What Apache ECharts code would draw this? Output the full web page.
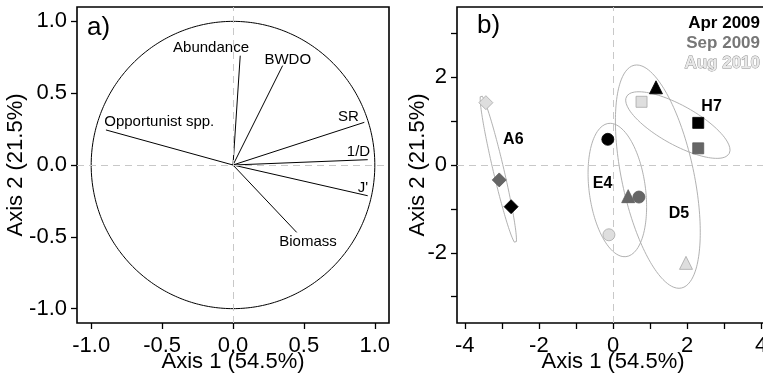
<!DOCTYPE html>
<html><head><meta charset="utf-8">
<script src="https://cdn.jsdelivr.net/npm/echarts@6/dist/echarts.min.js"></script>
<style>html,body{margin:0;padding:0;background:#fff}#c{width:763px;height:382px}</style>
</head><body><div id="c"></div>
<script>
// ---- Panel a: variable loadings ----
const vectorNames = ['Abundance', 'BWDO', 'SR', '1/D', "J'", 'Biomass', 'Opportunist spp.'];
const vectorX = [0.051, 0.350, 0.926, 0.950, 0.950, 0.449, -0.896];
const vectorY = [0.761, 0.692, 0.297, 0.037, -0.214, -0.469, 0.244];
const vectorLabelX = [-0.155, 0.386, 0.814, 0.885, 0.917, 0.529, -0.52];
const vectorLabelY = [0.815, 0.733, 0.338, 0.093, -0.156, -0.534, 0.297];
const aTicks = [-1, -0.5, 0, 0.5, 1];

// ---- Panel b: site scores ----
const sites = ['A6', 'E4', 'D5', 'H7'];
const siteSymbols = ['diamond', 'circle', 'triangle', 'rect'];
const periods = ['Apr 2009', 'Sep 2009', 'Aug 2010'];
const aprX = [-2.75, -0.14, 1.16, 2.30];
const aprY = [-0.95, 0.585, 1.77, 0.96];
const sepX = [-3.07, 0.70, 0.41, 2.30];
const sepY = [-0.34, -0.73, -0.71, 0.38];
const augX = [-3.43, -0.11, 1.97, 0.77];
const augY = [1.42, -1.59, -2.23, 1.44];
const siteLabelX = [-2.69, -0.28, 1.78, 2.66];
const siteLabelY = [0.59, -0.43, -1.10, 1.33];
// ellipse per site: centre, x spread, y spread, covariance term
const ellCX = [-3.095, 0.117, 1.21, 1.75];
const ellCY = [-0.095, -0.57, -0.265, 0.91];
const ellSX = [0.49, 0.79, 1.145, 1.408];
const ellSY = [1.69, 1.52, 2.544, 0.759];
const ellCov = [-0.789, -0.30, -1.45, -0.80];
const bXTicks = [-4, -3, -2, -1, 0, 1, 2, 3, 4];
const bXLabels = [-4, -2, 0, 2, 4];
const bYTicks = [-3, -2, -1, 0, 1, 2, 3];
const bYLabels = [-2, 0, 2];

const FONT = '"Liberation Sans", Arial, sans-serif';

function circlePts() {
  const p = [];
  for (let i = 0; i <= 360; i++) { const t = i * Math.PI / 180; p.push([Math.cos(t), Math.sin(t)]); }
  return p;
}
function ellipsePts(k) {
  const p = [];
  const sx = ellSX[k], c = ellCov[k], sy = ellSY[k];
  const r = c / sx, q = Math.sqrt(Math.max(sy * sy - r * r, 0));
  for (let i = 0; i <= 360; i++) {
    const t = i * Math.PI / 180;
    p.push([ellCX[k] + sx * Math.cos(t), ellCY[k] + r * Math.cos(t) + q * Math.sin(t)]);
  }
  return p;
}

function axisCommon(ticks, labels, fmt, margin) {
  return {
    axisLine: { show: false, onZero: false },
    axisTick: { show: true, inside: false, length: 6, lineStyle: { color: '#000', width: 1.3 }, customValues: ticks },
    axisLabel: { show: true, customValues: labels, formatter: fmt, color: '#000', fontSize: 22, fontFamily: FONT, margin: margin },
    splitLine: { show: false },
    nameTextStyle: { color: '#000', fontSize: 22, fontFamily: FONT },
    nameLocation: 'middle',
    nameMoveOverlap: false
  };
}
const f1 = v => Number(v).toFixed(1);
const f0 = v => String(Math.round(v));

const zeroLines = {
  silent: true, symbol: 'none', animation: false,
  label: { show: false },
  lineStyle: { type: [7, 5], color: '#c8c8c8', width: 1 },
  data: [{ xAxis: 0 }, { yAxis: 0 }]
};

const textLabel = (size, weight) => ({
  show: true, position: 'inside', formatter: p => p.name, color: '#000',
  fontSize: size, fontWeight: weight, fontFamily: FONT, textBorderWidth: 0, opacity: 1
});

const series = [];
// panel a
series.push({
  type: 'line', xAxisIndex: 0, yAxisIndex: 0, data: circlePts(), showSymbol: false,
  lineStyle: { color: '#000', width: 1 }, silent: true, z: 3, markLine: zeroLines
});
series.push({
  type: 'lines', coordinateSystem: 'cartesian2d', xAxisIndex: 0, yAxisIndex: 0, z: 4,
  lineStyle: { color: '#000', width: 1, opacity: 1 },
  data: vectorNames.map((n, i) => ({ coords: [[0, 0], [vectorX[i], vectorY[i]]] }))
});
series.push({
  type: 'scatter', xAxisIndex: 0, yAxisIndex: 0, symbolSize: 0.1, z: 5, silent: true,
  itemStyle: { color: '#000' },
  label: textLabel(15, 'normal'),
  data: vectorNames.map((n, i) => ({ name: n, value: [vectorLabelX[i], vectorLabelY[i]] }))
});
// panel b ellipses
sites.forEach((s, k) => {
  series.push({
    type: 'line', xAxisIndex: 1, yAxisIndex: 1, data: ellipsePts(k), showSymbol: false, silent: true, z: 2,
    lineStyle: { color: '#a8a8a8', width: 0.9 },
    markLine: k === 0 ? zeroLines : undefined
  });
});
const symSize = { diamond: 14, circle: 12, triangle: 13, rect: 11 };
const periodX = [aprX, sepX, augX];
const periodY = [aprY, sepY, augY];
const periodFill = ['#000000', '#666666', '#dedede'];
const periodBorder = ['#000000', '#5a5a5a', '#a8a8a8'];
periods.forEach((p, j) => {
  series.push({
    type: 'scatter', name: p, xAxisIndex: 1, yAxisIndex: 1, z: 6,
    itemStyle: { color: periodFill[j], borderColor: periodBorder[j], borderWidth: 0.8, opacity: 1 },
    data: sites.map((s, k) => ({
      name: s, value: [periodX[j][k], periodY[j][k]],
      symbol: siteSymbols[k], symbolSize: symSize[siteSymbols[k]]
    }))
  });
});
series.push({
  type: 'scatter', xAxisIndex: 1, yAxisIndex: 1, symbolSize: 0.1, z: 7, silent: true,
  itemStyle: { color: '#000' },
  label: textLabel(16, 'bold'),
  data: sites.map((s, k) => ({ name: s, value: [siteLabelX[k], siteLabelY[k]] }))
});

const legendColors = ['#000000', '#777777', '#e8e8e8'];
const legendGraphics = periods.map((p, j) => ({
  type: 'text', x: 760, y: 23 + j * 20, z: 100,
  style: {
    text: p, align: 'right', verticalAlign: 'middle',
    font: 'bold 17px ' + FONT, fill: legendColors[j],
    stroke: j === 2 ? '#8a8a8a' : null, lineWidth: j === 2 ? 0.8 : 0
  }
}));

const option = {
  animation: false,
  backgroundColor: '#fff',
  grid: [
    { left: 77, top: 7, width: 312, height: 316, show: true, borderColor: '#000', borderWidth: 1.6, backgroundColor: 'transparent', containLabel: false, outerBoundsMode: 'none' },
    { left: 457, top: 7, width: 312, height: 316, show: true, borderColor: '#000', borderWidth: 1.6, backgroundColor: 'transparent', containLabel: false, outerBoundsMode: 'none' }
  ],
  xAxis: [
    Object.assign(axisCommon(aTicks, aTicks, f1, 12), { type: 'value', gridIndex: 0, min: -1.1, max: 1.1, name: 'Axis 1 (54.5%)', nameGap: 28 }),
    Object.assign(axisCommon(bXTicks, bXLabels, f0, 12), { type: 'value', gridIndex: 1, min: -4.21, max: 4.21, name: 'Axis 1 (54.5%)', nameGap: 28 })
  ],
  yAxis: [
    Object.assign(axisCommon(aTicks, aTicks, f1, 10), { type: 'value', gridIndex: 0, min: -1.1, max: 1.1, name: 'Axis 2 (21.5%)', nameGap: 50 }),
    Object.assign(axisCommon(bYTicks, bYLabels, f0, 10), { type: 'value', gridIndex: 1, min: -3.6, max: 3.6, name: 'Axis 2 (21.5%)', nameGap: 28 })
  ],
  graphic: [
    { type: 'text', x: 87, y: 28, z: 100, style: { text: 'a)', font: '26px ' + FONT, fill: '#000', verticalAlign: 'middle' } },
    { type: 'text', x: 477, y: 26, z: 100, style: { text: 'b)', font: '26px ' + FONT, fill: '#000', verticalAlign: 'middle' } }
  ].concat(legendGraphics),
  series: series
};
const chart = echarts.init(document.getElementById('c'), null, { renderer: 'canvas' });
chart.setOption(option);
</script>
</body></html>
